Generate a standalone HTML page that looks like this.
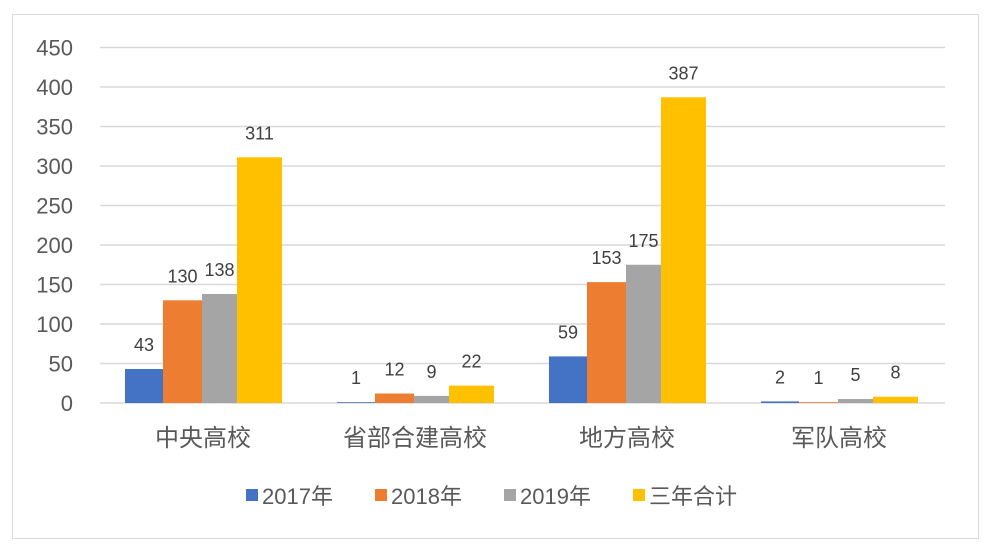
<!DOCTYPE html>
<html><head><meta charset="utf-8"><style>
body{margin:0;background:#fff;}
svg text{font-family:"Liberation Sans","Noto Sans CJK SC",sans-serif;}
</style></head><body>
<svg width="991" height="552">
<rect x="12.5" y="14.5" width="966" height="524" fill="#fff" stroke="#d9d9d9"/>
<g id="grid"></g><g id="bars"></g><g id="labels"></g>
<g font-size="22" fill="#595959">
<rect x="246" y="489" width="12" height="12" fill="#4472c4"/>
<text x="262" y="504" fill="#595959">2017年</text>
<rect x="375" y="489" width="12" height="12" fill="#ed7d31"/>
<text x="391" y="504" fill="#595959">2018年</text>
<rect x="504" y="489" width="12" height="12" fill="#a5a5a5"/>
<text x="520" y="504" fill="#595959">2019年</text>
<rect x="633" y="489" width="12" height="12" fill="#ffc000"/>
<text x="649" y="504" fill="#595959">三年合计</text>
</g>
</svg>
<script>
const categories=["中央高校","省部合建高校","地方高校","军队高校"];
const s2017=[43,1,59,2];
const s2018=[130,12,153,1];
const s2019=[138,9,175,5];
const sTotal=[311,22,387,8];
const yTicks=[0,50,100,150,200,250,300,350,400,450];
const NS="http://www.w3.org/2000/svg";
const y0=403,k=0.79,x0=100,x1=945,gStart=125,gStep=212;
const y=v=>y0-v*k;
function mk(tag,attrs,parent){const e=document.createElementNS(NS,tag);for(const a in attrs)e.setAttribute(a,attrs[a]);parent.appendChild(e);return e;}
const grid=document.getElementById('grid'),bars=document.getElementById('bars'),labels=document.getElementById('labels');
yTicks.forEach(t=>{
 const l=mk('line',{x1:x0,x2:x1,y1:y(t),y2:y(t),stroke:'#d9d9d9','stroke-width':1.5},grid);
 
 
 const tx=mk('text',{x:73,y:y(t)+8,'text-anchor':'end','font-size':22,fill:'#595959'},grid);
 tx.textContent=t;
 
 
});
const series=[{d:s2017,c:'#4472c4',o:0,w:38,n:'2017'},{d:s2018,c:'#ed7d31',o:38,w:39,n:'2018'},{d:s2019,c:'#a5a5a5',o:77,w:35,n:'2019'},{d:sTotal,c:'#ffc000',o:112,w:45,n:'total'}];
categories.forEach((cat,i)=>{
 const gx=gStart+i*gStep;
 series.forEach(s=>{
  const v=s.d[i],bx=gx+s.o;
  const r=mk('rect',{x:bx,y:y(v),width:s.w,height:Math.max(v*k,0.5),fill:s.c},bars);
  
  
  const t=mk('text',{x:bx+s.w/2,y:y(v)-18,'text-anchor':'middle','font-size':18,fill:'#404040'},labels);
  t.textContent=v;
  
  
 });
 const c=mk('text',{x:gx+78,y:446,'text-anchor':'middle','font-size':24,fill:'#595959'},labels);
 c.textContent=cat;
 
 
});
</script>
</body></html>
